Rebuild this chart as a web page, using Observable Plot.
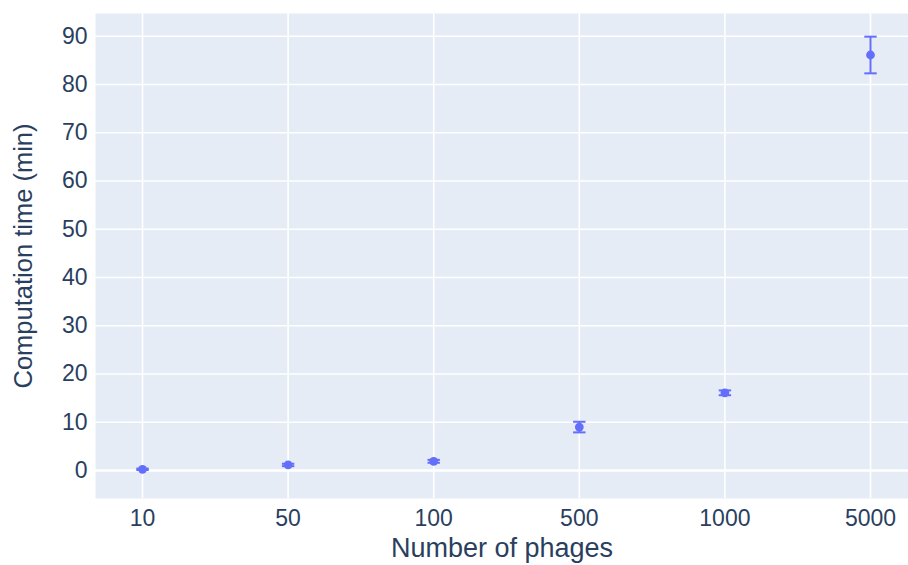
<!DOCTYPE html>
<html>
<head>
<meta charset="utf-8">
<script src="https://cdn.jsdelivr.net/npm/d3@7"></script>
<script src="https://cdn.jsdelivr.net/npm/@observablehq/plot@0.6"></script>
<style>
  html, body { margin: 0; padding: 0; background: #fff; }
  #chart svg { display: block; }
</style>
</head>
<body>
<div id="chart"></div>
<script>
const categories = ["10", "50", "100", "500", "1000", "5000"];
const meanTime = [0.25, 1.15, 1.9, 9.0, 16.1, 86.1];
const errTime = [0.15, 0.25, 0.3, 1.1, 0.5, 3.8];
const yTicks = [0, 10, 20, 30, 40, 50, 60, 70, 80, 90];
const xTitle = "Number of phages";
const yTitle = "Computation time (min)";

const xIndex = categories.map((c, i) => i);
const data = categories.map((c, i) => ({
  n: c, i, t: meanTime[i], lo: meanTime[i] - errTime[i], hi: meanTime[i] + errTime[i]
}));

const blue = "#636EFA";
const ink = "#2a3f5f";
const capSymbol = {
  draw(ctx) { ctx.moveTo(-6.2, 0); ctx.lineTo(6.2, 0); }
};

const chart = Plot.plot({
  width: 908,
  height: 565,
  marginLeft: 95,
  marginRight: 0,
  marginTop: 13,
  marginBottom: 67,
  style: { fontFamily: "'Liberation Sans', Arial, Helvetica, sans-serif", color: ink, background: "#fff" },
  x: { type: "linear", domain: [-0.323, 5.261] },
  y: { domain: [-5.8, 94.7] },
  marks: [
    Plot.frame({ fill: "#E5ECF6", stroke: null }),
    Plot.gridY(yTicks.filter(d => d !== 0), { stroke: "#fff", strokeOpacity: 1, strokeWidth: 1.6 }),
    Plot.gridX(xIndex, { stroke: "#fff", strokeOpacity: 1, strokeWidth: 1.6 }),
    Plot.ruleY([0], { stroke: "#fff", strokeWidth: 2.6 }),
    Plot.axisY(yTicks, { tickSize: 0, tickPadding: 8, fontSize: 23, label: null, fill: ink }),
    Plot.axisX(xIndex, { tickSize: 0, tickPadding: 11, fontSize: 23, label: null, fill: ink, tickFormat: i => categories[i] }),
    Plot.ruleX(data, { x: "i", y1: "lo", y2: "hi", stroke: blue, strokeWidth: 2 }),
    Plot.dot(data, { x: "i", y: "hi", symbol: capSymbol, stroke: blue, strokeWidth: 2, fill: "none" }),
    Plot.dot(data, { x: "i", y: "lo", symbol: capSymbol, stroke: blue, strokeWidth: 2, fill: "none" }),
    Plot.dot(data, { x: "i", y: "t", r: 4.4, fill: blue, stroke: null }),
    Plot.text([xTitle], { frameAnchor: "bottom", dy: 58, fontSize: 27, fill: ink, textAnchor: "middle" }),
    Plot.text([yTitle], { frameAnchor: "left", dx: -72, rotate: -90, fontSize: 25.5, fill: ink, textAnchor: "middle" })
  ]
});

document.getElementById("chart").appendChild(chart);
</script>
</body>
</html>
